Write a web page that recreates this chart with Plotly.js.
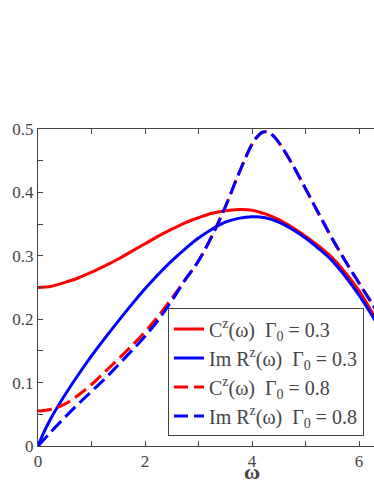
<!DOCTYPE html>
<html>
<head>
<meta charset="utf-8">
<script src="https://cdn.plot.ly/plotly-3.0.1.min.js"></script>
<style>
  html, body { margin: 0; padding: 0; overflow: hidden; background: #fff; }
  #chart { width: 474px; height: 484px; }
  #chart svg text { font-family: 'Liberation Serif', serif !important; }
</style>
</head>
<body>
<div id="chart"></div>
<script>
// omega grid for the solid curves
const omegaSolid = [0, 0.25, 0.5, 0.75, 1.0, 1.25, 1.5, 1.75, 2.0, 2.25, 2.5, 2.75, 3.0, 3.25, 3.5,
  3.75, 4.0, 4.25, 4.5, 4.75, 5.0, 5.25, 5.5, 5.75, 6.0, 6.25, 6.5];

// C^z(omega), Gamma_0 = 0.3
const cz03Y = [0.250, 0.252, 0.258, 0.265, 0.274, 0.284, 0.295, 0.307, 0.319, 0.331, 0.342, 0.352, 0.360, 0.367, 0.371,
  0.373, 0.372, 0.366, 0.357, 0.345, 0.331, 0.315, 0.297, 0.273, 0.245, 0.210, 0.175];

// Im R^z(omega), Gamma_0 = 0.3
const rz03X = [0, 0.1].concat(omegaSolid.slice(1));
const rz03Y = [0, 0.020, 0.045, 0.080, 0.112, 0.142, 0.170, 0.197, 0.223, 0.248, 0.271, 0.292, 0.311, 0.328, 0.342, 0.353,
  0.359, 0.3615, 0.360, 0.353, 0.342, 0.328, 0.311, 0.292, 0.267, 0.238, 0.205, 0.168];

// C^z(omega), Gamma_0 = 0.8
const cz08X = [0, 0.25, 0.5, 0.75, 1.0, 1.25, 1.5, 1.75, 2.0, 2.25, 2.5, 2.75, 3.0, 3.25, 3.5, 3.75,
  4.0, 4.1, 4.2, 4.3, 4.4, 4.5, 4.75, 5.0, 5.25, 5.5, 5.75, 6.0, 6.25, 6.5];
const cz08Y = [0.055, 0.058, 0.066, 0.080, 0.097, 0.117, 0.137, 0.158, 0.180, 0.205, 0.233, 0.262, 0.292, 0.331, 0.377, 0.429,
  0.476, 0.488, 0.495, 0.495, 0.489, 0.479, 0.445, 0.406, 0.366, 0.327, 0.291, 0.257, 0.224, 0.192];

// Im R^z(omega), Gamma_0 = 0.8
const rz08X = cz08X;
const rz08Y = [0, 0.023, 0.045, 0.066, 0.086, 0.106, 0.128, 0.150, 0.173, 0.199, 0.229, 0.262, 0.292, 0.331, 0.377, 0.429,
  0.476, 0.488, 0.495, 0.495, 0.489, 0.479, 0.445, 0.406, 0.366, 0.327, 0.291, 0.257, 0.224, 0.192];

const legendNames = [
  'C<sup>z</sup>(ω)\u00a0\u00a0Γ<sub>0</sub> = 0.3',
  'Im R<sup>z</sup>(ω)\u00a0\u00a0Γ<sub>0</sub> = 0.3',
  'C<sup>z</sup>(ω)\u00a0\u00a0Γ<sub>0</sub> = 0.8',
  'Im R<sup>z</sup>(ω)\u00a0\u00a0Γ<sub>0</sub> = 0.8'
];

// ticks every 1 on x and every 0.05 on y, labelled every 2 and every 0.1
const xTicks = [0, 1, 2, 3, 4, 5, 6, 7, 8];
const xTickText = ['0', ' ', '2', ' ', '4', ' ', '6', ' ', '8'];
const yTicks = [0, 0.05, 0.1, 0.15, 0.2, 0.25, 0.3, 0.35, 0.4, 0.45, 0.5];
const yTickText = ['0', ' ', '0.1', ' ', '0.2', ' ', '0.3', ' ', '0.4', ' ', '0.5'];

const serif = 'Liberation Serif';
const dashPattern = '14px,6px';

const traces = [
  { x: omegaSolid, y: cz03Y, name: legendNames[0], line: { color: '#ff0000', width: 3 } },
  { x: rz03X, y: rz03Y, name: legendNames[1], line: { color: '#0000ff', width: 3 } },
  { x: cz08X, y: cz08Y, name: legendNames[2], line: { color: '#ff0000', width: 3, dash: dashPattern } },
  { x: rz08X, y: rz08Y, name: legendNames[3], line: { color: '#0000ff', width: 3, dash: dashPattern } }
].map(t => {
  t.type = 'scatter';
  t.mode = 'lines';
  t.line.shape = 'spline';
  t.line.smoothing = 1;
  return t;
});

const layout = {
  width: 474,
  height: 484,
  margin: { l: 38, r: 8, t: 129, b: 38 },
  font: { family: serif, size: 17 },
  showlegend: true,
  legend: {
    x: 0.3037, y: 0.434, yanchor: 'top',
    bordercolor: '#444', borderwidth: 1,
    itemwidth: 30,
    font: { family: serif, size: 20 }
  },
  xaxis: {
    range: [0, 8], tickvals: xTicks, ticktext: xTickText,
    showline: true, linecolor: '#444', mirror: 'ticks', ticks: 'inside', ticklen: 5, tickcolor: '#444',
    showgrid: false, zeroline: false,
    title: { text: '<b>ω</b>', font: { family: serif, size: 22 }, standoff: 14 }
  },
  yaxis: {
    range: [0, 0.5], tickvals: yTicks, ticktext: yTickText,
    showline: true, linecolor: '#444', mirror: 'ticks', ticks: 'inside', ticklen: 5, tickcolor: '#444',
    showgrid: false, zeroline: false
  }
};

Plotly.newPlot('chart', traces, layout, { displayModeBar: false, staticPlot: true });
</script>
</body>
</html>
